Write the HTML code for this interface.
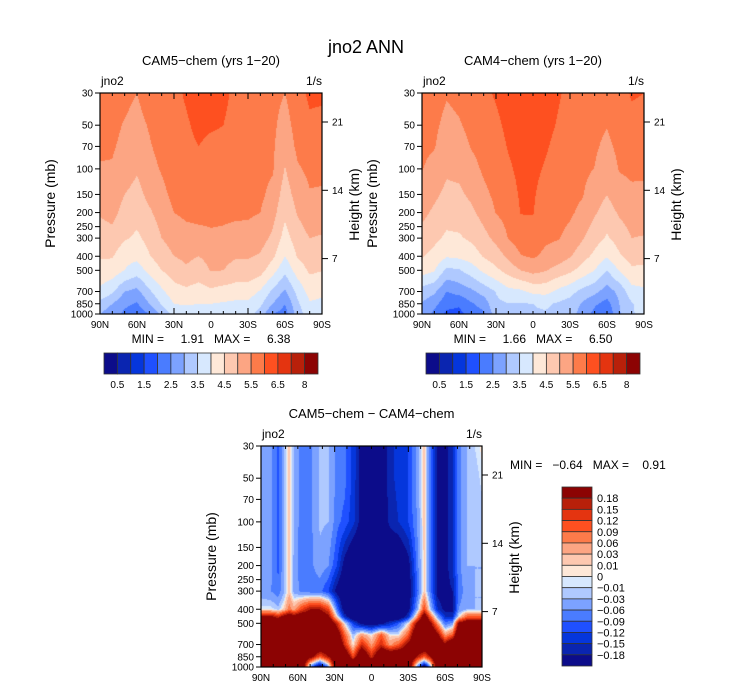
<!DOCTYPE html>
<html><head><meta charset="utf-8"><style>
html,body{margin:0;padding:0;background:#fff;}
#root{position:relative;width:733px;height:691px;overflow:hidden;font-family:"Liberation Sans",sans-serif;}
canvas{position:absolute;}
svg{position:absolute;left:0;top:0;}
</style></head><body>
<div id="root">
<canvas id="c1" width="222" height="221" style="left:100px;top:93px"></canvas>
<canvas id="c2" width="222" height="221" style="left:422px;top:93px"></canvas>
<canvas id="c3" width="221" height="221" style="left:261px;top:446px"></canvas>
<svg id="ov" width="733" height="691"></svg>
</div>
<script>
// ---- data ----
const P_LEVELS = [30,50,70,100,150,200,300,400,500,700,850,1000];
const LATS = [90,80,70,60,50,40,30,20,10,0,-10,-20,-30,-40,-50,-60,-70,-80,-90];
const CAM5 = [
[5.8,5.75,5.65,5.5,5.8,5.9,5.9,6.05,6.2,6.2,6.1,5.9,5.9,5.8,5.65,5.5,5.8,6.1,6.1],
[5.67,5.63,5.46,5.31,5.55,5.8,5.85,5.95,6.1,6.05,6.0,5.85,5.85,5.75,5.6,5.3,5.7,5.9,5.85],
[5.58,5.55,5.38,5.19,5.44,5.7,5.82,5.9,6.0,5.9,5.9,5.85,5.8,5.7,5.57,5.17,5.6,5.8,5.75],
[5.46,5.46,5.23,5.05,5.3,5.55,5.78,5.85,5.9,5.85,5.85,5.8,5.75,5.65,5.55,4.97,5.44,5.6,5.6],
[5.22,5.29,5.0,4.85,5.13,5.35,5.65,5.75,5.8,5.75,5.75,5.72,5.65,5.6,5.35,4.76,5.2,5.47,5.45],
[5.05,5.15,4.82,4.68,4.93,5.2,5.5,5.6,5.65,5.65,5.62,5.6,5.58,5.5,5.18,4.6,5.03,5.3,5.3],
[4.76,4.83,4.56,4.41,4.66,5.0,5.2,5.32,5.33,5.4,5.38,5.3,5.3,5.2,4.9,4.3,4.75,5.0,4.95],
[4.54,4.54,4.15,4.13,4.47,4.76,5.0,5.1,5.0,5.15,5.14,5.04,5.04,4.95,4.6,4.0,4.53,4.75,4.7],
[4.33,4.28,4.0,3.75,4.15,4.5,4.75,4.93,4.75,5.03,5.0,4.83,4.83,4.7,4.2,3.63,4.22,4.58,4.52],
[3.9,3.6,3.0,2.85,3.42,3.9,4.3,4.38,4.3,4.4,4.3,4.25,4.25,3.95,3.4,2.93,3.65,4.18,4.1],
[3.33,3.0,2.6,2.45,3.0,3.55,4.0,4.05,4.0,4.0,3.95,3.9,3.9,3.6,3.0,2.5,3.4,3.95,3.9],
[3.0,2.7,2.4,2.2,2.5,3.1,3.7,3.75,3.75,3.75,3.75,3.7,3.7,3.3,2.5,2.3,3.2,3.85,3.8]];
const CAM4 = [
[5.8,5.75,5.55,5.65,5.8,5.9,6.05,6.2,6.3,6.3,6.25,6.05,5.9,5.85,5.7,5.6,5.8,6.05,6.0],
[5.68,5.61,5.34,5.45,5.64,5.76,5.91,6.1,6.22,6.22,6.13,5.97,5.81,5.75,5.61,5.52,5.69,5.86,5.83],
[5.6,5.53,5.21,5.29,5.53,5.67,5.82,6.03,6.17,6.17,6.05,5.88,5.75,5.68,5.56,5.4,5.61,5.73,5.71],
[5.52,5.34,5.08,5.12,5.34,5.57,5.72,5.93,6.12,6.11,5.96,5.8,5.69,5.61,5.49,5.22,5.53,5.59,5.58],
[5.31,5.1,4.88,4.91,5.1,5.39,5.61,5.78,6.06,6.05,5.82,5.7,5.61,5.53,5.24,5.01,5.3,5.41,5.41],
[5.13,4.91,4.7,4.72,4.9,5.18,5.52,5.67,6.02,6.02,5.72,5.63,5.56,5.4,5.06,4.76,5.07,5.24,5.23],
[4.81,4.62,4.41,4.44,4.59,4.84,5.13,5.52,5.74,5.83,5.58,5.53,5.38,5.05,4.7,4.44,4.7,5.0,4.97],
[4.54,4.34,4.05,4.11,4.23,4.54,4.75,5.11,5.47,5.56,5.39,5.28,5.04,4.69,4.38,4.04,4.44,4.68,4.64],
[4.23,4.04,3.38,3.45,3.75,4.11,4.39,4.7,5.0,5.17,5.04,4.81,4.61,4.31,4.0,3.5,4.04,4.42,4.4],
[3.26,3.1,2.5,2.68,2.89,3.2,3.52,3.85,3.9,4.12,4.16,3.89,3.68,3.35,3.14,2.76,3.14,3.81,3.9],
[2.98,2.67,2.15,2.08,2.44,2.71,3.4,3.48,3.47,3.5,3.58,3.44,3.3,2.95,2.58,2.31,3.0,3.45,3.8],
[2.9,2.35,1.9,1.85,2.2,2.4,3.3,3.4,3.4,3.45,3.45,3.4,3.2,2.8,2.35,2.05,2.95,3.4,3.8]];
const DIFF_P = [30,50,100,200,300,400,450,500,600,700,850,950,1000];
const DIFF_LATS = [90,82,76,71,67,63,57,50,42,35,28,22,15,8,0,-8,-15,-22,-30,-37,-43,-48,-54,-60,-66,-71,-78,-84,-90];
const DIFF = [
[-0.04,-0.05,-0.10,-0.03,0.02,-0.03,-0.08,-0.07,-0.025,-0.025,-0.07,-0.08,-0.13,-0.2,-0.25,-0.22,-0.16,-0.14,-0.12,-0.05,0.02,-0.08,-0.2,-0.2,-0.15,-0.07,-0.03,-0.01,0.005],
[-0.04,-0.05,-0.10,-0.03,0.02,-0.03,-0.08,-0.07,-0.025,-0.025,-0.07,-0.08,-0.13,-0.2,-0.25,-0.22,-0.16,-0.14,-0.12,-0.05,0.02,-0.08,-0.2,-0.2,-0.15,-0.07,-0.03,-0.02,-0.005],
[-0.04,-0.05,-0.10,-0.03,0.02,-0.03,-0.08,-0.07,-0.025,-0.03,-0.08,-0.1,-0.14,-0.2,-0.25,-0.22,-0.17,-0.15,-0.12,-0.06,0.02,-0.08,-0.2,-0.2,-0.15,-0.07,-0.03,-0.02,-0.02],
[-0.05,-0.05,-0.10,-0.03,0.02,-0.04,-0.08,-0.07,-0.04,-0.06,-0.12,-0.2,-0.25,-0.25,-0.25,-0.25,-0.25,-0.25,-0.2,-0.08,0.02,-0.08,-0.2,-0.2,-0.15,-0.07,-0.03,-0.03,-0.03],
[-0.05,-0.06,-0.08,-0.03,0.02,-0.04,-0.07,-0.08,-0.08,-0.12,-0.2,-0.25,-0.25,-0.25,-0.25,-0.25,-0.25,-0.25,-0.22,-0.1,0.02,-0.08,-0.2,-0.2,-0.18,-0.08,-0.04,-0.03,-0.03],
[0.0,0.0,-0.02,0.02,0.08,0.04,0.12,0.18,0.18,0.12,-0.08,-0.22,-0.25,-0.25,-0.25,-0.25,-0.25,-0.25,-0.2,-0.05,0.12,-0.02,-0.15,-0.2,-0.2,-0.06,-0.03,-0.03,-0.03],
[0.2,0.2,0.15,0.22,0.25,0.22,0.25,0.25,0.25,0.2,0.0,-0.15,-0.25,-0.25,-0.25,-0.25,-0.25,-0.25,-0.15,0.05,0.25,0.1,-0.05,-0.15,-0.15,0.0,0.1,0.1,0.1],
[0.3,0.3,0.3,0.3,0.3,0.3,0.3,0.3,0.3,0.3,0.15,0.0,-0.12,-0.2,-0.22,-0.2,-0.15,-0.1,0.0,0.2,0.3,0.2,0.05,-0.08,-0.05,0.2,0.25,0.25,0.25],
[0.3,0.3,0.3,0.3,0.3,0.3,0.3,0.3,0.3,0.3,0.25,0.1,-0.03,0.05,0.0,0.1,0.0,0.0,0.1,0.3,0.3,0.3,0.2,0.05,0.1,0.3,0.3,0.3,0.3],
[0.3,0.3,0.3,0.3,0.3,0.3,0.3,0.3,0.3,0.3,0.3,0.15,0.0,0.15,0.05,0.15,0.05,0.1,0.2,0.3,0.3,0.3,0.3,0.2,0.3,0.3,0.3,0.3,0.3],
[0.3,0.3,0.3,0.3,0.3,0.3,0.3,0.22,0.1,0.18,0.3,0.3,0.12,0.3,0.15,0.3,0.3,0.3,0.3,0.18,0.1,0.18,0.3,0.3,0.3,0.3,0.3,0.3,0.3],
[0.3,0.3,0.3,0.3,0.3,0.3,0.3,0.02,-0.12,0.02,0.3,0.3,0.3,0.3,0.3,0.3,0.3,0.3,0.3,0.02,-0.12,0.02,0.3,0.3,0.3,0.3,0.3,0.3,0.3],
[0.3,0.3,0.3,0.3,0.3,0.3,0.3,-0.05,-0.28,-0.05,0.3,0.3,0.3,0.3,0.3,0.3,0.3,0.3,0.3,-0.05,-0.28,-0.05,0.3,0.3,0.3,0.3,0.3,0.3,0.3]];
const ABS_LEVELS = [0.5,1,1.5,2,2.5,3,3.5,4,4.5,5,5.5,6,6.5,7,8];
const ABS_LABELS = ["0.5","1.5","2.5","3.5","4.5","5.5","6.5","8"];
const DIFF_LEVELS = [-0.18,-0.15,-0.12,-0.09,-0.06,-0.03,-0.01,0,0.01,0.03,0.06,0.09,0.12,0.15,0.18];
const DIFF_LABELS = ["0.18","0.15","0.12","0.09","0.06","0.03","0.01","0","\u22120.01","\u22120.03","\u22120.06","\u22120.09","\u22120.12","\u22120.15","\u22120.18"];
const COLORS = ["#0c0c8a","#0a25b0","#0536dc","#1f50ff","#4a7cff","#7ca2ff","#afc9ff","#d7e8fe","#fee8d8","#fdc8b0","#fca583","#fd7b4a","#fe5020","#e43410","#b8200a","#8c0303"];
const P_TICKS = [30,50,70,100,150,200,250,300,400,500,700,850,1000];
const H_TICKS = [21,14,7];
const LAT_TICKS = ["90N","60N","30N","0","30S","60S","90S"];

// ---- drawing ----
const LN30=Math.log(30), LNR=Math.log(1000/30);
function interpIdx(arr,v,desc){
  for(let i=0;i<arr.length-1;i++){
    const a=arr[i],b=arr[i+1];
    if(desc? (v<=a&&v>=b):(v>=a&&v<=b)){return [i,(v-a)/(b-a)];}
  }
  return v<(desc?arr[arr.length-1]:arr[0])? (desc?[arr.length-2,1]:[0,0]) : (desc?[0,0]:[arr.length-2,1]);
}
function hexRGB(h){return [parseInt(h.substr(1,2),16),parseInt(h.substr(3,2),16),parseInt(h.substr(5,2),16)];}
const RGB=COLORS.map(hexRGB);
function drawField(id,lats,ps,vals,levels){
  const cv=document.getElementById(id),ctx=cv.getContext('2d');
  const w=cv.width,h=cv.height,img=ctx.createImageData(w,h);
  const lnps=ps.map(Math.log);
  for(let y=0;y<h;y++){
    const lp=LN30+(y+0.5)/h*LNR;
    const [pi,pt]=interpIdx(lnps,lp,false);
    for(let x=0;x<w;x++){
      const lat=90-(x+0.5)/w*180;
      const [li,lt]=interpIdx(lats,lat,true);
      const v00=vals[pi][li],v01=vals[pi][li+1],v10=vals[pi+1][li],v11=vals[pi+1][li+1];
      const v=(v00*(1-lt)+v01*lt)*(1-pt)+(v10*(1-lt)+v11*lt)*pt;
      let k=0;while(k<levels.length&&v>=levels[k])k++;
      const c=RGB[k],o=(y*w+x)*4;
      img.data[o]=c[0];img.data[o+1]=c[1];img.data[o+2]=c[2];img.data[o+3]=255;
    }
  }
  ctx.putImageData(img,0,0);
}
drawField('c1',LATS,P_LEVELS,CAM5,ABS_LEVELS);
drawField('c2',LATS,P_LEVELS,CAM4,ABS_LEVELS);
drawField('c3',DIFF_LATS,DIFF_P,DIFF,DIFF_LEVELS);

const NS="http://www.w3.org/2000/svg",ov=document.getElementById('ov');
function el(tag,attrs,parent){const e=document.createElementNS(NS,tag);for(const k in attrs)e.setAttribute(k,attrs[k]);(parent||ov).appendChild(e);return e;}
function txt(s,x,y,size,anchor,parent,rot){const t=el('text',{x:x,y:y,'font-size':size,'text-anchor':anchor||'middle',fill:'#000','font-family':'"Liberation Sans",sans-serif'},parent);if(rot)t.setAttribute('transform','rotate(-90 '+x+' '+y+')');t.textContent=s;return t;}

function axes(px,py,w,h,name,title,minmax){
  const g=el('g',{});
  
  
  const yOf=p=>py+(Math.log(p)-LN30)/LNR*h;
  const frame=el('rect',{x:px,y:py,width:w,height:h,fill:'none',stroke:'#000','stroke-width':1.2},g);
  
  
  P_TICKS.forEach(p=>{const y=yOf(p);el('line',{x1:px-5,y1:y,x2:px,y2:y,stroke:'#000'},g);
    const t=txt(String(p),px-7,y+3.5,10,'end',g);
    
    });
  H_TICKS.forEach(z=>{const y=py+29+(21-z)/7*68.3;el('line',{x1:px+w,y1:y,x2:px+w+6,y2:y,stroke:'#000'},g);
    const t=txt(String(z),px+w+10,y+3.5,10,'start',g);
    
    });
  for(let i=0;i<=18;i++){const x=px+i*w/18,L=(i%6==0)?6:3;
    el('line',{x1:x,y1:py+h,x2:x,y2:py+h-L,stroke:'#000'},g);
    el('line',{x1:x,y1:py,x2:x,y2:py+L,stroke:'#000'},g);}
  LAT_TICKS.forEach((s,i)=>{const t=txt(s,px+i*w/6,py+h+14,10,'middle',g);
    
    });
  const yl=txt('Pressure (mb)',px-45,py+h/2,14,'middle',g,true);
  
  
  const hl=txt('Height (km)',px+w+37,py+h/2+1,14,'middle',g,true);
  
  
  const vn=txt('jno2',px+1,py-8,12,'start',g);
  
  
  const un=txt('1/s',px+w,py-8,12,'end',g);
  
  
  const tt=txt(title,px+w/2,py-28,13,'middle',g);
  
  
  if(minmax){const m=txt(minmax,px+w/2,py+h+29,12,'middle',g);m.style.whiteSpace='pre';
    
    }
}
axes(100,93,222,221,'cam5','CAM5\u2212chem (yrs 1\u221220)','MIN =     1.91   MAX =     6.38');
axes(422,93,222,221,'cam4','CAM4\u2212chem (yrs 1\u221220)','MIN =     1.66   MAX =     6.50');
axes(261,446,221,221,'diff','CAM5\u2212chem \u2212 CAM4\u2212chem',null);

function hbar(x0,y0,w,h,name){
  const g=el('g',{});
  
  
  const bw=w/16;
  COLORS.forEach((c,i)=>{const r=el('rect',{x:x0+i*bw,y:y0,width:bw,height:h,fill:c,stroke:'#333','stroke-width':0.8},g);
    
    });
  ABS_LABELS.forEach((s,i)=>{const k=(i<7)?2*i+1:15;const t=txt(s,x0+k*bw,y0+h+14,10,'middle',g);
    
    });
}
hbar(104,353,214,21,'cam5-colorbar');
hbar(426,353,214,21,'cam4-colorbar');
(function(){
  const x0=562,y0=487,w=30,h=179,bh=h/16;
  const g=el('g',{});
  
  
  COLORS.slice().reverse().forEach((c,i)=>{const r=el('rect',{x:x0,y:y0+i*bh,width:w,height:bh,fill:c,stroke:'#333','stroke-width':0.8},g);
    
    });
  DIFF_LABELS.forEach((s,i)=>{const t=txt(s,x0+w+5,y0+(i+1)*bh+4,11,'start',g);
    
    });
})();
const mm=txt('MIN =   \u22120.64   MAX =    0.91',510,469,12,'start');
mm.style.whiteSpace='pre';


const mt=txt('jno2 ANN',366,53,18,'middle');


</script>
</body></html>
